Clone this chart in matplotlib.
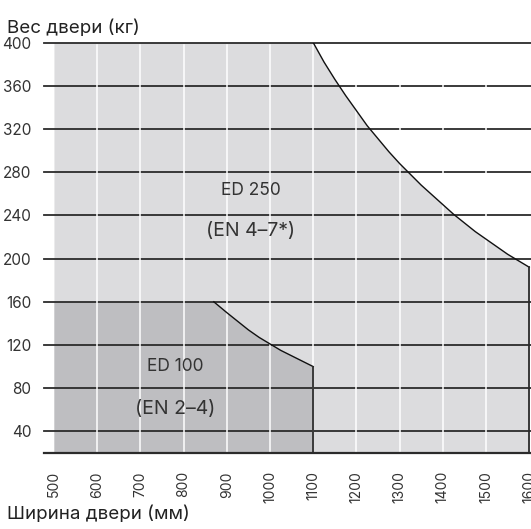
import matplotlib
matplotlib.use("Agg")
import matplotlib.pyplot as plt

plt.rcParams['font.family'] = ['Inter', 'DejaVu Sans']

# Data
x_ticks = [500, 600, 700, 800, 900, 1000, 1100, 1200, 1300, 1400, 1500, 1600]
y_ticks = [40, 80, 120, 160, 200, 240, 280, 320, 360, 400]

ed250_w = [500, 1100, 1125, 1150, 1175, 1200, 1225, 1250, 1275, 1300, 1325, 1350,
           1375, 1400, 1425, 1450, 1475, 1500, 1525, 1550, 1575, 1600]
ed250_kg = [400, 400, 382, 366, 351, 337, 323, 311, 299, 288, 278, 268,
            259, 250, 241, 233, 225, 218, 211, 204, 198, 192]

ed100_w = [500, 870, 885, 900, 925, 950, 975, 1000, 1025, 1050, 1075, 1100]
ed100_kg = [160, 160, 155, 150, 142, 134, 127, 121, 115, 110, 105, 100]

labels = [("ED 250", 955, 263, 12.5), ("(EN 4\u20137*)", 955, 226, 14),
          ("ED 100", 780, 100, 12.5), ("(EN 2\u20134)", 780, 61, 14)]

W, H = 531, 529
fig = plt.figure(figsize=(W / 100, H / 100), dpi=100)
ax = fig.add_axes([44 / W, (H - 453) / H, 487 / W, 410.4 / H])
ax.set_xlim(477, 1604)
ax.set_ylim(20, 400)

light = '#dcdcde'
dark = '#bebec1'
linec = '#2b2b2b'

ax.fill_between(ed250_w, 20, ed250_kg, color=light, lw=0, zorder=1)
ax.fill_between(ed100_w, 20, ed100_kg, color=dark, lw=0, zorder=2)

for y in y_ticks:
    ax.axhline(y, color=linec, lw=1.3, zorder=3, clip_on=False)
ax.axhline(20, color=linec, lw=1.6, zorder=6, clip_on=False)

for x in x_ticks[1:-1]:
    ax.plot([x, x], [20, 398], color='white', lw=1.1, zorder=4)

ax.plot(ed250_w[1:], ed250_kg[1:], color='#111111', lw=1.0, zorder=5)
ax.plot([ed250_w[-1], ed250_w[-1]], [20, ed250_kg[-1]], color=linec, lw=1.3, zorder=5, clip_on=False)
ax.plot(ed100_w[1:], ed100_kg[1:], color='#111111', lw=1.0, zorder=5)
ax.plot([ed100_w[-1], ed100_w[-1]], [20, ed100_kg[-1]], color=linec, lw=1.3, zorder=5)

for txt, x, y, fs in labels:
    ax.text(x, y, txt, ha='center', va='center', fontsize=fs, color='#333333', zorder=7)

for s in ax.spines.values():
    s.set_visible(False)
ax.set_xticks(x_ticks)
ax.set_xticklabels([str(v) for v in x_ticks], rotation=90, fontsize=10, color='#333333')
ax.set_yticks(y_ticks)
ax.set_yticklabels([str(v) for v in y_ticks], fontsize=11, color='#333333')
ax.tick_params(axis='y', length=0, pad=9)
ax.tick_params(axis='x', length=0, pad=13)
for lbl in ax.get_xticklabels():
    lbl.set_clip_on(False)

fig.text(7 / W, 1 - 33 / H, "Вес двери (кг)", fontsize=13.5, color='#222222', ha='left', va='baseline')
fig.text(7 / W, 1 - 519 / H, "Ширина двери (мм)", fontsize=13.5, color='#222222', ha='left', va='baseline')

fig.savefig("out.png", dpi=100)
